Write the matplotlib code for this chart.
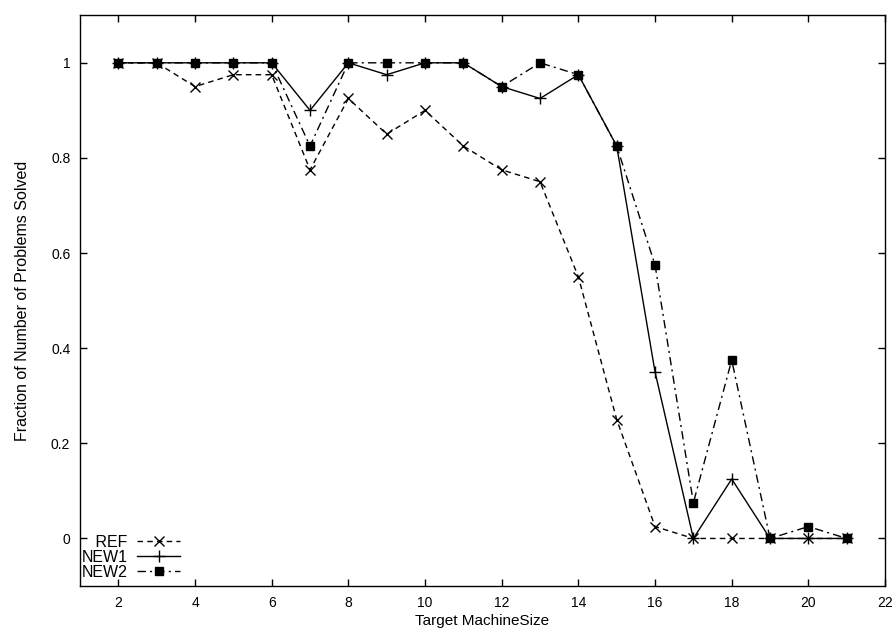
import numpy as np
import matplotlib.pyplot as plt

# размер целевой машины
machine_size = list(range(2, 22))

# доля решённых задач
ref = [1, 1, 0.95, 0.975, 0.975, 0.775, 0.925, 0.85, 0.9, 0.825,
       0.775, 0.75, 0.55, 0.25, 0.025, 0, 0, 0, 0, 0]
new1 = [1, 1, 1, 1, 1, 0.9, 1, 0.975, 1, 1,
        0.95, 0.925, 0.975, 0.825, 0.35, 0, 0.125, 0, 0, 0]
new2 = [1, 1, 1, 1, 1, 0.825, 1, 1, 1, 1,
        0.95, 1, 0.975, 0.825, 0.575, 0.075, 0.375, 0, 0.025, 0]

x_ticks = list(range(2, 23, 2))
y_ticks = [0, 0.2, 0.4, 0.6, 0.8, 1]

plt.rcParams['font.family'] = ['Liberation Sans', 'DejaVu Sans']
plt.rcParams['font.size'] = 10

fig = plt.figure(figsize=(8.94, 6.3), dpi=100)
ax = fig.add_axes([0.0895, 0.0698, 0.9005, 0.906])

ax.plot(machine_size, ref, color='black', linestyle=(0, (4, 3)), linewidth=1,
        marker='x', markersize=7, markeredgewidth=1, label='   REF')
ax.plot(machine_size, new1, color='black', linestyle='-', linewidth=1,
        marker='+', markersize=8, markeredgewidth=1, label='NEW1')
ax.plot(machine_size, new2, color='black', linestyle=(0, (6, 3, 1.5, 3)), linewidth=1,
        marker='s', markersize=6, label='NEW2')

ax.set_xlim(1, 22)
ax.set_ylim(-0.1, 1.1)
ax.set_xticks(x_ticks)
ax.set_yticks(y_ticks)
ax.set_yticklabels([f'{v:g}' for v in y_ticks])
ax.tick_params(direction='in', length=5, width=1, top=True, right=True, pad=7)
for s in ax.spines.values():
    s.set_linewidth(1)

ax.set_xlabel('Target MachineSize', labelpad=3, fontsize=11)
ax.set_ylabel('Fraction of Number of Problems Solved', labelpad=15, fontsize=11.5)

# легенда: подпись слева от образца линии
ax.legend(loc='lower left', bbox_to_anchor=(0.0, 0.008), frameon=False,
          markerfirst=False, handlelength=2.7, handletextpad=0.6,
          labelspacing=0.0, borderaxespad=0.0, borderpad=0.1, fontsize=11.5)

fig.savefig('out.png', dpi=100)
